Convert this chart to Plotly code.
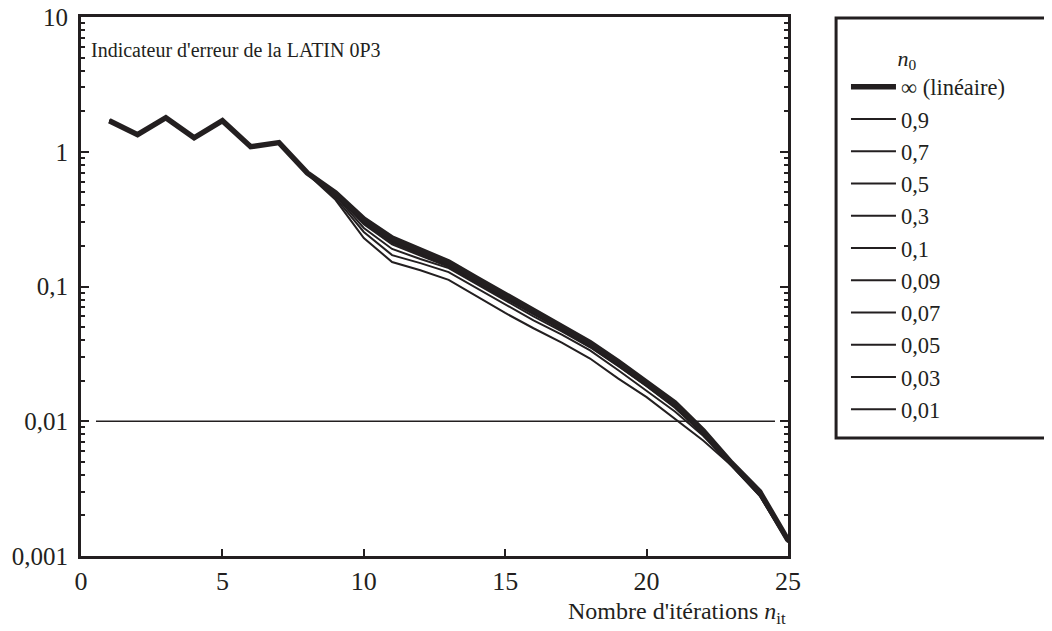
import plotly.graph_objects as go

# iterations
it = list(range(1, 26))

# first 7 iterations are common to all runs
head = [1.70, 1.34, 1.79, 1.27, 1.70, 1.09, 1.17]

# error indicator per n0 value (iterations 8..25)
err_inf = [0.697, 0.495, 0.317, 0.229, 0.186, 0.152, 0.115, 0.088, 0.067, 0.0515, 0.0384, 0.0277, 0.0197, 0.0137, 0.0085, 0.0049, 0.0030, 0.00131]
err_09 = [0.696, 0.494, 0.315, 0.227, 0.185, 0.151, 0.114, 0.0873, 0.0664, 0.0511, 0.0381, 0.0275, 0.0195, 0.0136, 0.0084, 0.0049, 0.0030, 0.00131]
err_07 = [0.695, 0.492, 0.312, 0.225, 0.183, 0.149, 0.113, 0.0865, 0.0658, 0.0506, 0.0377, 0.0272, 0.0193, 0.0135, 0.0084, 0.0048, 0.0030, 0.00130]
err_05 = [0.694, 0.490, 0.309, 0.222, 0.181, 0.148, 0.112, 0.0857, 0.0652, 0.0501, 0.0374, 0.0270, 0.0191, 0.0133, 0.0083, 0.0048, 0.0029, 0.00130]
err_03 = [0.693, 0.488, 0.305, 0.219, 0.179, 0.146, 0.110, 0.0848, 0.0645, 0.0496, 0.0370, 0.0267, 0.0189, 0.0132, 0.0083, 0.0048, 0.0029, 0.00129]
err_01 = [0.692, 0.485, 0.300, 0.215, 0.176, 0.144, 0.109, 0.0838, 0.0637, 0.0490, 0.0366, 0.0264, 0.0187, 0.0131, 0.0082, 0.0048, 0.0029, 0.00129]
err_009 = [0.691, 0.482, 0.296, 0.211, 0.173, 0.142, 0.107, 0.0828, 0.0630, 0.0484, 0.0362, 0.0261, 0.0185, 0.0129, 0.0082, 0.0048, 0.0029, 0.00129]
err_007 = [0.690, 0.478, 0.290, 0.205, 0.169, 0.140, 0.106, 0.0815, 0.0620, 0.0477, 0.0357, 0.0258, 0.0183, 0.0128, 0.0081, 0.0048, 0.0029, 0.00128]
err_005 = [0.689, 0.470, 0.272, 0.190, 0.160, 0.137, 0.104, 0.079, 0.060, 0.0465, 0.0354, 0.0256, 0.0182, 0.0126, 0.0080, 0.0048, 0.0029, 0.00128]
err_003 = [0.688, 0.455, 0.254, 0.171, 0.149, 0.128, 0.097, 0.074, 0.056, 0.044, 0.0336, 0.0239, 0.0169, 0.0118, 0.0078, 0.0047, 0.0028, 0.00127]
err_001 = [0.686, 0.440, 0.229, 0.152, 0.132, 0.112, 0.085, 0.0636, 0.049, 0.0384, 0.0292, 0.0207, 0.0151, 0.0105, 0.0072, 0.0047, 0.0028, 0.00126]

names = ["∞ (linéaire)", "0,9", "0,7", "0,5", "0,3", "0,1", "0,09", "0,07", "0,05", "0,03", "0,01"]
series = [err_inf, err_09, err_07, err_05, err_03, err_01, err_009, err_007, err_005, err_003, err_001]

# convergence threshold
thr_x = [0.53, 24.54]
thr_y = [0.01, 0.01]

ytick_vals = [0.001, 0.01, 0.1, 1, 10]
ytick_text = ["0,001", "0,01", "0,1", "1", "10"]
ydecades = [0.001, 0.01, 0.1, 1]
yminor = [d * k for d in ydecades for k in range(2, 10)]

font = "Liberation Serif"
ink = "#231f20"

fig = go.Figure()

# draw thin lines first, thick one on top
for i in range(len(series) - 1, -1, -1):
    fig.add_trace(go.Scatter(
        x=it, y=head + series[i], mode="lines", name=names[i],
        line=dict(color=ink, width=5.5 if i == 0 else 2),
        legendrank=i + 1,
    ))

fig.add_trace(go.Scatter(
    x=thr_x, y=thr_y, mode="lines", showlegend=False,
    line=dict(color=ink, width=1.5),
))

axis_common = dict(
    showgrid=False, zeroline=False, showline=True, linecolor=ink, linewidth=3,
    ticks="inside", tickcolor=ink, tickwidth=2, ticklabeloverflow="allow",
)

fig.update_xaxes(range=[0, 25], tickvals=[0, 5, 10, 15, 20, 25], ticklen=7,
                 mirror=True, tickfont=dict(family=font, size=26, color=ink), **axis_common)
fig.update_yaxes(type="log", range=[-3, 1], tickvals=ytick_vals, ticktext=ytick_text,
                 ticklen=8, mirror="allticks", ticklabelstandoff=5,
                 tickfont=dict(family=font, size=25, color=ink),
                 minor=dict(tickvals=yminor, ticks="inside", ticklen=4, tickcolor=ink,
                            tickwidth=2, showgrid=False),
                 **axis_common)

fig.add_annotation(x=0.012, y=0.963, xref="paper", yref="paper", xanchor="left", yanchor="top",
                   text="Indicateur d'erreur de la LATIN 0P3", showarrow=False,
                   font=dict(family=font, size=20, color=ink))
fig.add_annotation(x=1.0, y=-0.075, xref="paper", yref="paper", xanchor="right", yanchor="top",
                   text="Nombre d'itérations <i>n</i><sub>it</sub>", showarrow=False,
                   font=dict(family=font, size=24, color=ink))

# legend frame, running off the right edge as in the original
fig.add_shape(type="rect", xref="paper", yref="paper", x0=1.068, x1=1.4, y0=0.219, y1=0.998,
              line=dict(color=ink, width=3), fillcolor="rgba(0,0,0,0)", layer="above")

fig.update_layout(
    width=1044, height=623,
    margin=dict(l=73, r=264, t=9, b=75, autoexpand=False),
    plot_bgcolor="white", paper_bgcolor="white",
    legend=dict(
        x=1.082, y=0.963, xanchor="left", yanchor="top",
        borderwidth=0, bgcolor="rgba(0,0,0,0)",
        font=dict(family=font, size=22.5, color=ink),
        title=dict(text="         <i>n</i><sub>0</sub>", font=dict(family=font, size=22, color=ink)),
        itemwidth=45,
    ),
)

fig.write_html("out.html")
